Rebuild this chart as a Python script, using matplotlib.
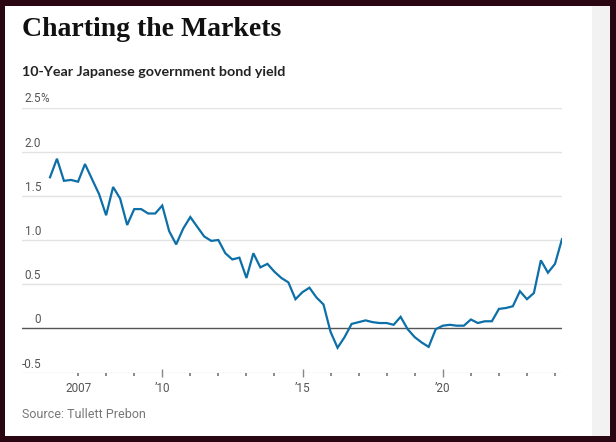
import matplotlib
matplotlib.use("Agg")
import matplotlib.pyplot as plt
from matplotlib.patches import Rectangle
import pandas as pd

# 10-year JGB yield, quarterly from 2006 Q1
yields = [1.71, 1.92, 1.67, 1.68, 1.66, 1.86, 1.69, 1.52, 1.28, 1.60,
          1.47, 1.17, 1.35, 1.35, 1.30, 1.30, 1.39, 1.10, 0.95, 1.13,
          1.26, 1.15, 1.04, 0.99, 1.00, 0.85, 0.78, 0.80, 0.57, 0.85,
          0.69, 0.73, 0.64, 0.57, 0.52, 0.33, 0.41, 0.46, 0.35, 0.27,
          -0.04, -0.22, -0.10, 0.05, 0.07, 0.09, 0.07, 0.06, 0.06, 0.04,
          0.13, -0.01, -0.10, -0.16, -0.21, -0.01, 0.03, 0.04, 0.03, 0.03,
          0.10, 0.06, 0.08, 0.08, 0.22, 0.23, 0.25, 0.42, 0.33, 0.40,
          0.77, 0.63, 0.73, 1.01]
dates = pd.date_range("2006-01-01", periods=len(yields), freq="QS")

y_ticks = [2.5, 2.0, 1.5, 1.0, 0.5, 0, -0.5]
y_labels = ["2.5", "2.0", "1.5", "1.0", "0.5", "0", "-0.5"]
x_label_years = [2007, 2010, 2015, 2020]
x_labels = ["2007", "\u201910", "\u201915", "\u201920"]
major_years = [2010, 2015, 2020]
minor_years = [y for y in range(2007, 2025) if y not in major_years]

W, H = 616, 442
fig = plt.figure(figsize=(W / 100, H / 100), dpi=100)
fig.patch.set_facecolor("#2a0612")

# white card + grey strip
fig.patches.append(Rectangle((5 / W, 1 - 436 / H), (592 - 5) / W, (436 - 6) / H,
                             transform=fig.transFigure, facecolor="white", edgecolor="none", zorder=-5))
fig.patches.append(Rectangle((592 / W, 1 - 436 / H), (610 - 592) / W, (436 - 6) / H,
                             transform=fig.transFigure, facecolor="#f2f2f2", edgecolor="none", zorder=-5))

ax = fig.add_axes([22 / W, 1 - 372.5 / H, 540 / W, (372.5 - 107.5) / H])
ax.set_zorder(2)
ax.set_facecolor("none")
ax.plot(dates, yields, color="#0d6fa8", lw=1.6, zorder=3, solid_joinstyle="miter")

ax.set_xlim(pd.Timestamp("2005-01-01"), pd.Timestamp("2024-04-01"))
ax.set_ylim(-0.5, 2.5)

for v in y_ticks:
    if v == 0:
        ax.axhline(0, color="#555555", lw=1.0, zorder=2)
    else:
        ax.axhline(v, color="#e3e3e3", lw=1.0, zorder=1)

for sp in ax.spines.values():
    sp.set_visible(False)
ax.set_yticks([])

tick_font = ["Roboto", "DejaVu Sans"]
for v, lab in zip(y_ticks, y_labels):
    ax.annotate(lab, xy=(0, v), xycoords=("axes fraction", "data"),
                xytext=(19, 2), textcoords="offset pixels", ha="right", va="bottom",
                fontsize=8.5, color="#555555", family=tick_font)
    if v == 2.5:
        ax.annotate("%", xy=(0, v), xycoords=("axes fraction", "data"),
                    xytext=(18, 2), textcoords="offset pixels", ha="left", va="bottom",
                    fontsize=8.5, color="#555555", family=tick_font)

# x ticks: major and minor
ax.set_xticks([pd.Timestamp(f"{y}-01-01") for y in major_years])
ax.set_xticks([pd.Timestamp(f"{y}-01-01") for y in minor_years], minor=True)
ax.tick_params(axis="x", which="major", direction="inout", length=6, width=1,
               color="#888888", labelbottom=False)
ax.tick_params(axis="x", which="minor", direction="out", length=2, width=1.2, color="#777777")
for y, lab in zip(x_label_years, x_labels):
    ax.annotate(lab, xy=(pd.Timestamp(f"{y}-01-01"), 0), xycoords=("data", "axes fraction"),
                xytext=(0, -9), textcoords="offset pixels", ha="center", va="top",
                fontsize=8.5, color="#555555", family=tick_font)

fig.text(22 / W, 1 - 36 / H, "Charting the Markets", fontsize=20, fontweight="bold",
         family=["Liberation Serif", "DejaVu Serif"], color="#111111", va="baseline")
fig.text(22 / W, 1 - 76 / H, "10-Year Japanese government bond yield", fontsize=10.3,
         fontweight="bold", family=["Lato", "DejaVu Sans"], color="#222222", va="baseline")
fig.text(22 / W, 1 - 418 / H, "Source: Tullett Prebon", fontsize=9,
         family=tick_font, color="#777777", va="baseline")

fig.savefig("out.png", dpi=100, facecolor=fig.get_facecolor())
